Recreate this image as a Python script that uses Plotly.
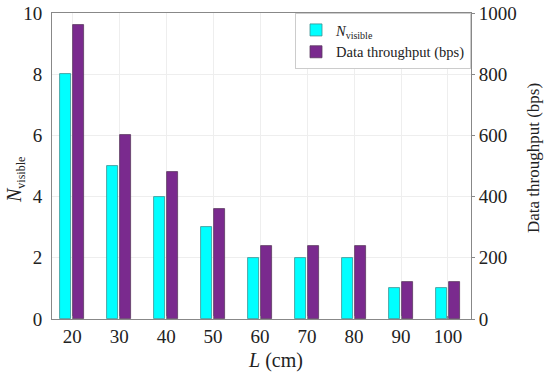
import plotly.graph_objects as go

L_cm = [20, 30, 40, 50, 60, 70, 80, 90, 100]
n_visible = [8, 5, 4, 3, 2, 2, 2, 1, 1]
throughput_bps = [960, 600, 480, 360, 240, 240, 240, 120, 120]
left_ticks = [0, 2, 4, 6, 8, 10]
right_ticks = [0, 200, 400, 600, 800, 1000]

FONT = "Liberation Serif"

fig = go.Figure()
fig.add_trace(go.Bar(
    x=L_cm, y=n_visible,
    name="<i>N</i><sub><span style='font-size:10px'>visible</span></sub>",
    width=2.4, offset=-2.55,
    marker=dict(color="#00FFFF", line=dict(color="#3a8f8f", width=0.8)),
    yaxis="y",
))
fig.add_trace(go.Bar(
    x=L_cm, y=throughput_bps, name="Data throughput (bps)",
    width=2.4, offset=0.15,
    marker=dict(color="#7A2A8E", line=dict(color="#5a3a60", width=0.8)),
    yaxis="y2",
))

fig.update_layout(
    width=550, height=382,
    margin=dict(l=52, r=79, t=13, b=63, autoexpand=False),
    paper_bgcolor="white", plot_bgcolor="white",
    font=dict(family=FONT, size=19, color="#222"),
    showlegend=True,
    legend=dict(
        x=1, y=1, xanchor="right", yanchor="top",
        bgcolor="white", bordercolor="#cccccc", borderwidth=1,
        font=dict(family=FONT, size=14.5, color="#222"),
        traceorder="normal", itemwidth=30,
        tracegroupgap=0,
    ),
    xaxis=dict(
        range=[15.7, 104.9], tickmode="array", tickvals=L_cm,
        ticktext=[str(v) for v in L_cm],
        showgrid=True, gridcolor="#eeeeee", gridwidth=1,
        showline=True, linecolor="#888888", linewidth=1, mirror=True,
        ticks="inside", ticklen=3, tickcolor="#888888",
        zeroline=False, automargin=False, ticklabeloverflow="allow",
        tickfont=dict(family=FONT, size=19),
    ),
    yaxis=dict(
        range=[0, 10], tickmode="array", tickvals=left_ticks,
        showgrid=True, gridcolor="#eeeeee", gridwidth=1,
        showline=True, linecolor="#888888", linewidth=1,
        ticks="", zeroline=False, automargin=False, ticklabeloverflow="allow",
        ticklabelstandoff=5,
        tickfont=dict(family=FONT, size=19),
    ),
    yaxis2=dict(
        range=[0, 1000], tickmode="array", tickvals=right_ticks,
        overlaying="y", side="right",
        showgrid=False,
        showline=True, linecolor="#888888", linewidth=1,
        ticks="outside", ticklen=3, tickcolor="#888888",
        zeroline=False, automargin=False, ticklabeloverflow="allow",
        tickfont=dict(family=FONT, size=19),
    ),
    bargap=0,
)

# axis titles as annotations (paper coords; plot spans x 52..471, y 13..319 px)
fig.add_annotation(
    text="<i>L</i> (cm)", xref="paper", yref="paper",
    x=(275 - 52) / 419, y=-(360 - 319) / 306, xanchor="center", yanchor="middle",
    showarrow=False, font=dict(family=FONT, size=20, color="#222"),
)
fig.add_annotation(
    text="<i>N</i><sub><span style='font-size:12px'>visible</span></sub>",
    xref="paper", yref="paper",
    x=(15 - 52) / 419, y=(319 - 180) / 306, xanchor="center", yanchor="middle",
    textangle=-90, showarrow=False, font=dict(family=FONT, size=20, color="#222"),
)
fig.add_annotation(
    text="Data throughput (bps)", xref="paper", yref="paper",
    x=(533 - 52) / 419, y=(319 - 158) / 306, xanchor="center", yanchor="middle",
    textangle=-90, showarrow=False, font=dict(family=FONT, size=17, color="#222"),
)

fig.write_html(
    "out.html",
    config={"displayModeBar": False},
    post_script="document.body.style.margin='0';",
)
